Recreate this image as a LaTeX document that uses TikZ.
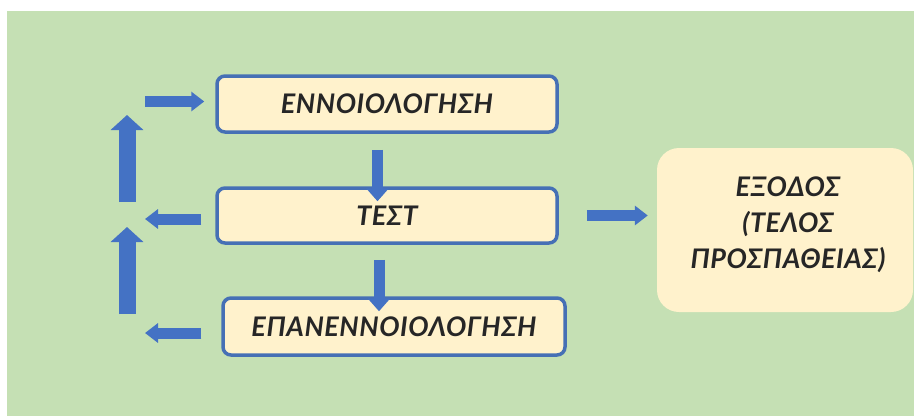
\documentclass[tikz,border=0pt]{standalone}
\usepackage{fontspec}
\newfontfamily\lblfont{Lato}[LetterSpace=2]
\usetikzlibrary{arrows.meta,calc}
\definecolor{bggreen}{HTML}{C5E0B4}
\definecolor{cream}{HTML}{FFF2CC}
\definecolor{arrblue}{HTML}{4472C4}
\definecolor{boxblue}{HTML}{4670B5}
\definecolor{txt}{HTML}{262626}
\tikzset{
  procbox/.style={draw=boxblue, line width=3.5pt, fill=cream, rounded corners=8pt,
    inner sep=0pt, text=txt, font=\lblfont\bfseries\itshape\fontsize{27}{30}\selectfont},
  endbox/.style={fill=cream, rounded corners=22pt, inner sep=0pt},
  endtext/.style={text=txt, align=center, inner sep=0pt,
    font=\lblfont\bfseries\itshape\fontsize{27}{36}\selectfont},
  harrow/.style={draw=arrblue, line width=11pt, -{Triangle[width=19pt,length=13pt]}},
  uparrow/.style={draw=arrblue, line width=17pt, -{Triangle[width=32pt,length=15pt]}},
  dnarrow/.style={draw=arrblue, line width=11pt, -{Triangle[width=22pt,length=13pt]}},
}
\begin{document}
\begin{tikzpicture}[x=1pt,y=-1pt]
\useasboundingbox (0,0) rectangle (914,416);
\fill[white] (0,0) rectangle (914,416);
\fill[bggreen] (7,11) rectangle (914,416);

\node[procbox, minimum width=340pt, minimum height=56pt] (enn) at (387,104) {ΕΝΝΟΙΟΛΟΓΗΣΗ};
\node[procbox, minimum width=340pt, minimum height=55pt] (test) at (387,215.5) {ΤΕΣΤ};
\node[procbox, minimum width=342pt, minimum height=57pt] (epan) at (394,326.5) {ΕΠΑΝΕΝΝΟΙΟΛΟΓΗΣΗ};
\node[endbox, minimum width=256pt, minimum height=164pt] (exod) at (785,230) {};
\node[endtext] (exodtxt) at ($(exod.center)+(3,-5)$) {ΕΞΟΔΟΣ\\(ΤΕΛΟΣ\\ΠΡΟΣΠΑΘΕΙΑΣ)};

\coordinate (up1s) at (127,202);
\coordinate (up1e) at (127,115);
\coordinate (up2s) at (127,314);
\coordinate (up2e) at (127,227);
\coordinate (inS) at (145,101.5);
\coordinate (outT) at (145,219);
\coordinate (outE) at (145,333);

\draw[uparrow] (up1s) -- (up1e);
\draw[uparrow] (up2s) -- (up2e);
\draw[harrow] (inS) -- ($(enn.west |- inS)+(-11,0)$);
\draw[harrow] ($(test.west |- outT)+(-14,0)$) -- (outT);
\draw[harrow] ($(epan.west |- outE)+(-20,0)$) -- (outE);
\draw[dnarrow] ($(enn.south)+(-9.5,16)$) -- ($(test.north)+(-9.5,15)$);
\draw[dnarrow] ($(test.south)+(-8,15)$) -- ($(epan.north)+(-15,15)$);
\draw[harrow] ($(test.east)+(28,0)$) -- ($(exod.west |- test.east)+(-9,0)$);
\end{tikzpicture}
\end{document}
